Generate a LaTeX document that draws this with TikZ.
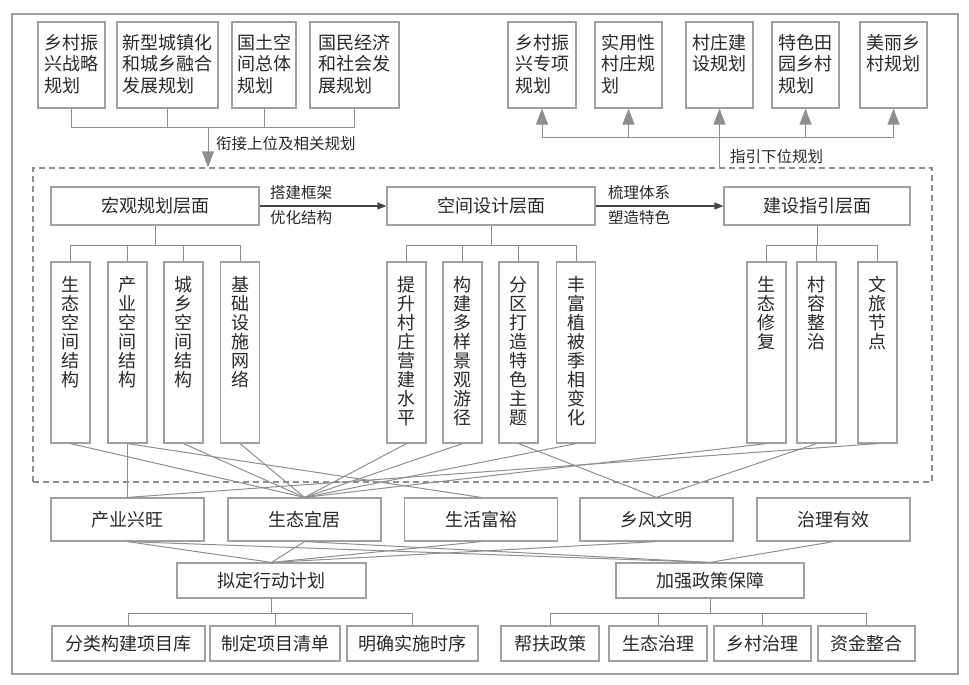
\documentclass[tikz,border=0pt]{standalone}
\usepackage{fontspec}
\setmainfont{Noto Sans CJK SC}
\usetikzlibrary{arrows.meta}

\definecolor{linegray}{HTML}{8E8E8E}
\definecolor{boxgray}{HTML}{A0A0A0}
\definecolor{txtgray}{HTML}{282828}
\definecolor{flowgray}{HTML}{444444}

\begin{document}
\begin{tikzpicture}[x=1pt, y=-1pt,
  box/.style={draw=boxgray, line width=1.2pt, text=txtgray, inner sep=0pt, font=\fontsize{18}{21.5}\selectfont},
  upbox/.style={box, minimum height=86},
  lvbox/.style={box, minimum height=38},
  vbox/.style={box, minimum width=39, minimum height=181, font=\fontsize{18}{19}\selectfont},
  goalbox/.style={box, minimum width=153, minimum height=43},
  actbox/.style={box, minimum height=35},
  lab/.style={text=txtgray, inner sep=0pt, font=\fontsize{15.5}{18}\selectfont},
  link/.style={draw=linegray, line width=1pt},
  guide/.style={link, -{Triangle[width=12pt,length=16pt]}, fill=linegray},
  flow/.style={draw=flowgray, line width=1.3pt, -{Triangle[width=7pt,length=9pt]}},
  dashzone/.style={draw=linegray, line width=1.4pt, dash pattern=on 6pt off 4pt}]
\useasboundingbox (0,0) rectangle (969,685);
\draw[draw=boxgray, line width=1.2pt] (12,14) rectangle (958,674);

\node[upbox, minimum width=67] (ub1) at (71.5,65) {\parbox[c][62pt][t]{54pt}{乡村振\\兴战略\\规划}};
\node[upbox, minimum width=101] (ub2) at (167.5,65) {\parbox[c][62pt][t]{90pt}{新型城镇化\\和城乡融合\\发展规划}};
\node[upbox, minimum width=64] (ub3) at (264,65) {\parbox[c][62pt][t]{54pt}{国土空\\间总体\\规划}};
\node[upbox, minimum width=89] (ub4) at (354.5,65) {\parbox[c][62pt][t]{72pt}{国民经济\\和社会发\\展规划}};

\node[upbox, minimum width=68] (db1) at (542,65) {\parbox[c][62pt][t]{54pt}{乡村振\\兴专项\\规划}};
\node[upbox, minimum width=67] (db2) at (628.5,65) {\parbox[c][62pt][t]{54pt}{实用性\\村庄规\\划}};
\node[upbox, minimum width=67] (db3) at (719.5,65) {\parbox[c][62pt][t]{54pt}{村庄建\\设规划}};
\node[upbox, minimum width=67] (db4) at (805.5,65) {\parbox[c][62pt][t]{54pt}{特色田\\园乡村\\规划}};
\node[upbox, minimum width=67] (db5) at (893.5,65) {\parbox[c][62pt][t]{54pt}{美丽乡\\村规划}};

\node[dashzone, minimum width=899, minimum height=314, inner sep=0pt] (zone) at (482.5,325) {};

\coordinate (busl) at (208,127);
\draw[link] (ub1.south) -- (ub1.south |- busl) -- (ub4.south |- busl) -- (ub4.south);
\draw[link] (ub2.south) -- (ub2.south |- busl);
\draw[link] (ub3.south) -- (ub3.south |- busl);
\draw[guide] (busl) -- (busl |- zone.north);
\node[lab, anchor=west] (lbup) at (216,144) {衔接上位及相关规划};

\coordinate (busr) at (719.5,137);
\draw[link] (db1.south |- busr) -- (db5.south |- busr);
\draw[guide] (db1.south |- busr) -- (db1.south);
\draw[guide] (db2.south |- busr) -- (db2.south);
\draw[guide] (db3.south |- zone.north) -- (db3.south);
\draw[guide] (db4.south |- busr) -- (db4.south);
\draw[guide] (db5.south |- busr) -- (db5.south);
\node[lab, anchor=west] (lbdown) at (730,157) {指引下位规划};

\node[lvbox, minimum width=208] (lv1) at (155,206) {宏观规划层面};
\node[lvbox, minimum width=208] (lv2) at (491,206) {空间设计层面};
\node[lvbox, minimum width=186] (lv3) at (817,206) {建设指引层面};
\draw[flow] (lv1.east) -- (lv2.west);
\draw[flow] (lv2.east) -- (lv3.west);
\node[lab, anchor=west] (lb1) at (270,193) {搭建框架};
\node[lab, anchor=west] (lb2) at (270,218) {优化结构};
\node[lab, anchor=west] (lb3) at (608,193) {梳理体系};
\node[lab, anchor=west] (lb4) at (608,218) {塑造特色};

\node[vbox] (a1) at (70.5,352.5) {\parbox[c][152pt][t]{18pt}{\centering 生\\态\\空\\间\\结\\构}};
\node[vbox] (a2) at (127.5,352.5) {\parbox[c][152pt][t]{18pt}{\centering 产\\业\\空\\间\\结\\构}};
\node[vbox] (a3) at (183.5,352.5) {\parbox[c][152pt][t]{18pt}{\centering 城\\乡\\空\\间\\结\\构}};
\node[vbox] (a4) at (240,352.5) {\parbox[c][152pt][t]{18pt}{\centering 基\\础\\设\\施\\网\\络}};
\node[vbox] (b1) at (406.5,352.5) {\parbox[c][152pt][t]{18pt}{\centering 提\\升\\村\\庄\\营\\建\\水\\平}};
\node[vbox] (b2) at (462.5,352.5) {\parbox[c][152pt][t]{18pt}{\centering 构\\建\\多\\样\\景\\观\\游\\径}};
\node[vbox] (b3) at (518.5,352.5) {\parbox[c][152pt][t]{18pt}{\centering 分\\区\\打\\造\\特\\色\\主\\题}};
\node[vbox] (b4) at (576,352.5) {\parbox[c][152pt][t]{18pt}{\centering 丰\\富\\植\\被\\季\\相\\变\\化}};
\node[vbox] (c1) at (766.5,352.5) {\parbox[c][152pt][t]{18pt}{\centering 生\\态\\修\\复}};
\node[vbox] (c2) at (816.5,352.5) {\parbox[c][152pt][t]{18pt}{\centering 村\\容\\整\\治}};
\node[vbox] (c3) at (877.5,352.5) {\parbox[c][152pt][t]{18pt}{\centering 文\\旅\\节\\点}};

\draw[link] (lv1.south) -- ++(0,20) coordinate (t1);
\draw[link] (a1.north) |- (t1);
\draw[link] (a4.north) |- (t1);
\draw[link] (a2.north) -- (a2.north |- t1);
\draw[link] (a3.north) -- (a3.north |- t1);
\draw[link] (lv2.south) -- ++(0,20) coordinate (t2);
\draw[link] (b1.north) |- (t2);
\draw[link] (b4.north) |- (t2);
\draw[link] (b2.north) -- (b2.north |- t2);
\draw[link] (b3.north) -- (b3.north |- t2);
\draw[link] (lv3.south) -- ++(0,20) coordinate (t3);
\draw[link] (c1.north) |- (t3);
\draw[link] (c3.north) |- (t3);
\draw[link] (c2.north) -- (c2.north |- t3);

\node[goalbox] (g1) at (127.5,519.5) {产业兴旺};
\node[goalbox] (g2) at (304.5,519.5) {生态宜居};
\node[goalbox] (g3) at (481,519.5) {生活富裕};
\node[goalbox] (g4) at (656.5,519.5) {乡风文明};
\node[goalbox] (g5) at (833.5,519.5) {治理有效};

\draw[link] (a1.south) -- (g2.north);
\draw[link] (a2.south) -- (g1.north);
\draw[link] (a2.south) -- (g3.north);
\draw[link] (a3.south) -- (g2.north);
\draw[link] (a4.south) -- (g2.north);
\draw[link] (b1.south) -- (g2.north);
\draw[link] (b2.south) -- (g2.north);
\draw[link] (b3.south) -- (g4.north);
\draw[link] (b4.south) -- (g2.north);
\draw[link] (c1.south) -- (g2.north);
\draw[link] (c2.south) -- (g4.north);
\draw[link] (c3.south) -- (g1.north);

\node[actbox, minimum width=189] (x1) at (271.5,580.5) {拟定行动计划};
\node[actbox, minimum width=188] (x2) at (710,580.5) {加强政策保障};

\draw[link] (g1.south) -- (x1.north);
\draw[link] (g1.south) -- (x2.north);
\draw[link] (g2.south) -- (x1.north);
\draw[link] (g2.south) -- (x2.north);
\draw[link] (g3.south) -- (x1.north);
\draw[link] (g4.south) -- (x1.north);
\draw[link] (g5.south) -- (x2.north);

\node[actbox, minimum width=153] (s1) at (128.5,643.5) {分类构建项目库};
\node[actbox, minimum width=130] (s2) at (275,643.5) {制定项目清单};
\node[actbox, minimum width=131] (s3) at (412.5,643.5) {明确实施时序};
\node[actbox, minimum width=98] (s4) at (550,643.5) {帮扶政策};
\node[actbox, minimum width=98] (s5) at (658,643.5) {生态治理};
\node[actbox, minimum width=97] (s6) at (762.5,643.5) {乡村治理};
\node[actbox, minimum width=97] (s7) at (866.5,643.5) {资金整合};

\draw[link] (x1.south) -- ++(0,15) coordinate (t4);
\draw[link] (s1.north) |- (t4);
\draw[link] (s3.north) |- (t4);
\draw[link] (s2.north) -- (s2.north |- t4);
\draw[link] (x2.south) -- ++(0,15) coordinate (t5);
\draw[link] (s4.north) |- (t5);
\draw[link] (s7.north) |- (t5);
\draw[link] (s5.north) -- (s5.north |- t5);
\draw[link] (s6.north) -- (s6.north |- t5);
\end{tikzpicture}
\end{document}
